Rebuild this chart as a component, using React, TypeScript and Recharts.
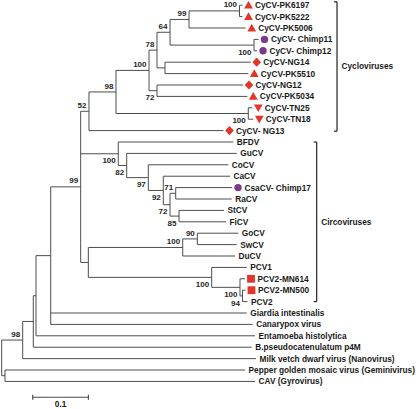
import React from 'react';
import { ComposedChart, XAxis, YAxis, Scatter, ReferenceLine } from 'recharts';

// ---- Tips (top to bottom) ----
const tipNames = [
  'CyCV-PK6197', 'CyCV-PK5222', 'CyCV-PK5006', 'CyCV- Chimp11', 'CyCV- Chimp12', 'CyCV-NG14',
  'CyCV-PK5510', 'CyCV-NG12', 'CyCV-PK5034', 'CyCV-TN25', 'CyCV-TN18', 'CyCV- NG13',
  'BFDV', 'GuCV', 'CoCV', 'CaCV', 'CsaCV- Chimp17', 'RaCV', 'StCV', 'FiCV', 'GoCV', 'SwCV', 'DuCV',
  'PCV1', 'PCV2-MN614', 'PCV2-MN500', 'PCV2',
  'Giardia intestinalis', 'Canarypox virus', 'Entamoeba histolytica', 'B.pseudocatenulatum p4M',
  'Milk vetch dwarf virus (Nanovirus)', 'Pepper golden mosaic virus (Geminivirus)', 'CAV (Gyrovirus)',
];
// distance from root (substitutions/site)
const tipDepths = [
  0.4323, 0.4323, 0.4381, 0.4610, 0.4584, 0.4470,
  0.4427, 0.4332, 0.4409, 0.4499, 0.4517, 0.3982,
  0.4158, 0.4219, 0.4068, 0.4099, 0.4135, 0.4129, 0.3991, 0.4027, 0.4248, 0.4219, 0.4189,
  0.4399, 0.4368, 0.4377, 0.4413,
  0.4399, 0.4506, 0.4548, 0.4488, 0.4566, 0.4368, 0.4548,
];
const tipMarkers = [
  'up', 'up', 'up', 'circle', 'circle', 'diamond',
  'up', 'diamond', 'up', 'down', 'down', 'diamond',
  '', '', '', '', 'circle', '', '', '', '', '', '',
  '', 'square', 'square', '',
  '', '', '', '', '', '', '',
];

// ---- Internal nodes ----
const nodeNames = [
  'pk', 'n99', 'chimp', 'n64', 'ng14', 'n78', 'n72', 'n100c', 'tn', 'n98', 'n52',
  'stfi', 'csara', 'cE', 'cD', 'cC', 'cB', 'cA', 'n90', 'du', 'pcv2b', 'pcv2a', 'pcv', 'cY',
  'X', 'Z', 'W', 'V', 'U', 'T', 'root',
];
const nodeDepths = [
  0.4269, 0.3363, 0.4530, 0.3022, 0.2932, 0.2788, 0.2788, 0.2645, 0.4427, 0.2052, 0.1567,
  0.3183, 0.3124, 0.3022, 0.2901, 0.2632, 0.2244, 0.2093, 0.3512, 0.3250, 0.4323, 0.4278, 0.3770, 0.1555,
  0.1418, 0.0880, 0.0616, 0.0567, 0.0377, 0.0059, 0,
];
const nodeChildren = [
  ['CyCV-PK6197', 'CyCV-PK5222'], ['pk', 'CyCV-PK5006'], ['CyCV- Chimp11', 'CyCV- Chimp12'],
  ['n99', 'chimp'], ['CyCV-NG14', 'CyCV-PK5510'], ['n64', 'ng14'], ['CyCV-NG12', 'CyCV-PK5034'],
  ['n78', 'n72'], ['CyCV-TN25', 'CyCV-TN18'], ['n100c', 'tn'], ['n98', 'CyCV- NG13'],
  ['StCV', 'FiCV'], ['CsaCV- Chimp17', 'RaCV'], ['csara', 'stfi'], ['CaCV', 'cE'], ['CoCV', 'cD'],
  ['GuCV', 'cC'], ['BFDV', 'cB'], ['GoCV', 'SwCV'], ['n90', 'DuCV'], ['PCV2-MN500', 'PCV2'],
  ['PCV2-MN614', 'pcv2b'], ['PCV1', 'pcv2a'], ['du', 'pcv'],
  ['n52', 'cA', 'cY'], ['X', 'Giardia intestinalis', 'Canarypox virus'], ['Z', 'Entamoeba histolytica'],
  ['W', 'B.pseudocatenulatum p4M'], ['V', 'Milk vetch dwarf virus (Nanovirus)'],
  ['Pepper golden mosaic virus (Geminivirus)', 'CAV (Gyrovirus)'], ['U', 'T'],
];
const nodeSupport = [
  100, 99, 100, 64, null, 78, 72, 100, 100, 98, 52,
  85, 71, 72, 92, 97, 82, 100, 90, 100, 94, 100, 100, null,
  99, null, null, null, 98, null, null,
];
const supportBelow = ['chimp', 'n72', 'tn', 'stfi', 'cE', 'cD', 'cC', 'cB', 'cA', 'pcv2b', 'pcv2a', 'pcv'];

// ---- Clades & scale ----
const cladeNames = ['Cycloviruses', 'Circoviruses'];
const cladeFirst = ['CyCV-PK6197', 'BFDV'];
const cladeLast = ['CyCV- NG13', 'PCV2'];
const scaleBarLength = 0.1;
const scaleBarLabel = '0.1';

// ---- layout constants ----
const W = 416;
const H = 409;
const X_DOMAIN: [number, number] = [-0.00305, 0.7438];
const Y_DOMAIN: [number, number] = [-0.456, 35.42];
const PX = (X_DOMAIN[1] - X_DOMAIN[0]) / W; // units per pixel
const FONT = '"Liberation Sans", Arial, Helvetica, sans-serif';
const LINE = '#4d4d4d';
const RED = '#e2352c';
const PURPLE = '#7b3a8c';
const cladeBarX = [0.6020, 0.5655];
const scaleBarX0 = 0.0557;
const scaleBarY = 34.39;

// ---- derived tree geometry ----
const depthOf: Record<string, number> = {};
tipNames.forEach((n, i) => (depthOf[n] = tipDepths[i]));
nodeNames.forEach((n, i) => (depthOf[n] = nodeDepths[i]));
const yCache: Record<string, number> = {};
function yOf(name: string): number {
  if (yCache[name] !== undefined) return yCache[name];
  const ti = tipNames.indexOf(name);
  let y: number;
  if (ti >= 0) y = ti;
  else {
    const ch = nodeChildren[nodeNames.indexOf(name)];
    y = (yOf(ch[0]) + yOf(ch[ch.length - 1])) / 2;
  }
  yCache[name] = y;
  return y;
}

type Seg = [{ x: number; y: number }, { x: number; y: number }];
const segments: Seg[] = [];
nodeNames.forEach((n, i) => {
  const ch = nodeChildren[i];
  const x = nodeDepths[i];
  segments.push([{ x, y: yOf(ch[0]) }, { x, y: yOf(ch[ch.length - 1]) }]);
  ch.forEach((c) => segments.push([{ x, y: yOf(c) }, { x: depthOf[c], y: yOf(c) }]));
});

const tipData = tipNames.map((name, i) => ({ x: tipDepths[i], y: i, name, marker: tipMarkers[i] }));
const supportData = nodeNames
  .map((n, i) => ({ x: nodeDepths[i], y: yOf(n), support: nodeSupport[i], below: supportBelow.includes(n) }))
  .filter((d) => d.support !== null);

const TipShape = (props: any) => {
  const { cx, cy, payload } = props;
  if (cx == null || cy == null) return <g />;
  const m = payload.marker;
  const mx = cx + 6;
  let mark: React.ReactNode = null;
  if (m === 'up') {
    mark = <polygon points={`${mx},${cy - 4.3} ${mx - 4.4},${cy + 3.4} ${mx + 4.4},${cy + 3.4}`} fill={RED} />;
  } else if (m === 'down') {
    mark = <polygon points={`${mx},${cy + 4.3} ${mx - 4.4},${cy - 3.4} ${mx + 4.4},${cy - 3.4}`} fill={RED} />;
  } else if (m === 'diamond') {
    mark = <polygon points={`${mx},${cy - 4.6} ${mx + 4.3},${cy} ${mx},${cy + 4.6} ${mx - 4.3},${cy}`} fill={RED} />;
  } else if (m === 'circle') {
    mark = <circle cx={mx} cy={cy} r={3.7} fill={PURPLE} />;
  } else if (m === 'square') {
    mark = <rect x={mx - 3.9} y={cy - 3.9} width={7.8} height={7.8} fill={RED} />;
  }
  const tx = m ? cx + 12.5 : cx + 3.5;
  return (
    <g>
      {mark}
      <text x={tx} y={cy} dy="0.35em" fontFamily={FONT} fontSize={8.3} fontWeight="bold" fill="#1a1a1a">
        {payload.name}
      </text>
    </g>
  );
};

const SupportShape = (props: any) => {
  const { cx, cy, payload } = props;
  if (cx == null || cy == null) return <g />;
  return (
    <text
      x={cx - 2.5}
      y={payload.below ? cy + 6.8 : cy - 6.2}
      dy="0.35em"
      textAnchor="end"
      fontFamily={FONT}
      fontSize={8}
      fontWeight="bold"
      fill="#262626"
    >
      {payload.support}
    </text>
  );
};

export default function App() {
  const tick = 3 * PX;
  return (
    <div style={{ position: 'absolute', left: 0, top: 0, width: W, height: H, background: '#fff' }}>
      <ComposedChart width={W} height={H} margin={{ top: 0, right: 0, bottom: 0, left: 0 }}>
        <XAxis type="number" dataKey="x" domain={X_DOMAIN} hide allowDataOverflow />
        <YAxis type="number" dataKey="y" domain={Y_DOMAIN} reversed hide allowDataOverflow />
        {segments.map((s, i) => (
          <ReferenceLine key={`b${i}`} segment={s} stroke={LINE} strokeWidth={1} ifOverflow="visible" />
        ))}
        {cladeNames.map((name, i) => {
          const y0 = yOf(cladeFirst[i]) - (i === 0 ? 0.3 : 0);
          const y1 = yOf(cladeLast[i]) + (i === 0 ? 0.05 : 0);
          const bx = cladeBarX[i];
          return (
            <React.Fragment key={name}>
              <ReferenceLine
                segment={[{ x: bx, y: y0 }, { x: bx, y: y1 }]}
                stroke="#222"
                strokeWidth={1.2}
                ifOverflow="visible"
                label={{ value: name, position: 'right', offset: 4.5, fontSize: 8.3, fontWeight: 'bold', fontFamily: FONT, fill: '#1a1a1a' }}
              />
              <ReferenceLine segment={[{ x: bx - tick, y: y0 }, { x: bx, y: y0 }]} stroke="#222" strokeWidth={1.2} ifOverflow="visible" />
              <ReferenceLine segment={[{ x: bx - tick, y: y1 }, { x: bx, y: y1 }]} stroke="#222" strokeWidth={1.2} ifOverflow="visible" />
            </React.Fragment>
          );
        })}
        <ReferenceLine
          segment={[{ x: scaleBarX0, y: scaleBarY }, { x: scaleBarX0 + scaleBarLength, y: scaleBarY }]}
          stroke={LINE}
          strokeWidth={1.2}
          ifOverflow="visible"
          label={{ value: scaleBarLabel, position: 'bottom', offset: 3.5, fontSize: 8.3, fontWeight: 'bold', fontFamily: FONT, fill: '#1a1a1a' }}
        />
        <ReferenceLine segment={[{ x: scaleBarX0, y: scaleBarY - 0.22 }, { x: scaleBarX0, y: scaleBarY + 0.22 }]} stroke={LINE} strokeWidth={1.2} ifOverflow="visible" />
        <ReferenceLine
          segment={[{ x: scaleBarX0 + scaleBarLength, y: scaleBarY - 0.22 }, { x: scaleBarX0 + scaleBarLength, y: scaleBarY + 0.22 }]}
          stroke={LINE}
          strokeWidth={1.2}
          ifOverflow="visible"
        />
        <Scatter data={supportData} shape={SupportShape} isAnimationActive={false} />
        <Scatter data={tipData} shape={TipShape} isAnimationActive={false} />
      </ComposedChart>
    </div>
  );
}
